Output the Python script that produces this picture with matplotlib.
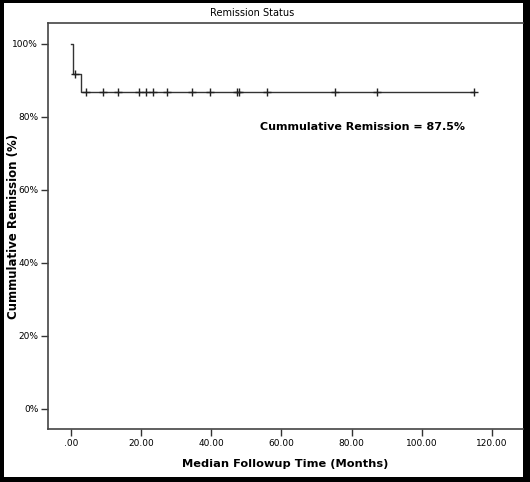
import matplotlib
matplotlib.use("Agg")
import matplotlib.pyplot as plt
from matplotlib.patches import Rectangle
from matplotlib.ticker import FuncFormatter

# Kaplan-Meier step curve (months, cumulative remission %)
step_t = [0.0, 0.5, 3.0, 114.9]
step_s = [100.0, 91.8, 86.8, 86.8]
# censored observations
cens_t = [1.1, 4.2, 9.2, 13.3, 19.4, 21.4, 23.4, 27.4, 34.6, 39.7,
          47.2, 47.9, 55.9, 75.2, 87.3, 114.9]
cens_s = [91.8] + [86.8] * 15
xticks = [0, 20, 40, 60, 80, 100, 120]
yticks = [0, 20, 40, 60, 80, 100]

W, H = 530, 482
fig = plt.figure(figsize=(W / 100, H / 100), dpi=100)
fig.patch.set_facecolor("black")
fig.add_artist(Rectangle((4 / W, 5 / H), 519 / W, 474 / H,
                         transform=fig.transFigure, facecolor="white",
                         edgecolor="none", zorder=-10))
ax = fig.add_axes([48 / W, 1 - 429 / H, 475 / W, 406 / H])
ax.set_facecolor("white")

ax.step(step_t, step_s, where="post", color="#333333", lw=1.0)
ax.plot(cens_t, cens_s, "+", color="#222222", ms=6, mew=1.0)

ax.set_xlim(-6.5, 128.8)
ax.set_ylim(-5.6, 105.7)
ax.set_xticks(xticks)
ax.set_yticks(yticks)
ax.xaxis.set_major_formatter(FuncFormatter(
    lambda v, p: ".00" if v == 0 else f"{v:.2f}"))
ax.yaxis.set_major_formatter(FuncFormatter(lambda v, p: f"{v:.0f}%"))
ax.tick_params(direction="out", length=5, width=1.0, labelsize=6.5,
               color="#333333", pad=2)
ax.spines["right"].set_visible(False)
for s in ("top", "bottom", "left"):
    ax.spines[s].set_color("#444444")
    ax.spines[s].set_linewidth(1.2)

ax.set_title("Remission Status", fontsize=7, x=0.43, pad=5)
ax.set_xlabel("Median Followup Time (Months)", fontsize=8.2,
              fontweight="bold", labelpad=8)
ax.set_ylabel("Cummulative Remission (%)", fontsize=8.5,
              fontweight="bold")
ax.yaxis.set_label_coords(-28 / 475, 0.5)
ax.text(54, 77.3, "Cummulative Remission = 87.5%", fontsize=8,
        fontweight="bold", ha="left", va="center")

fig.savefig("out.png", dpi=100, facecolor=fig.get_facecolor())
